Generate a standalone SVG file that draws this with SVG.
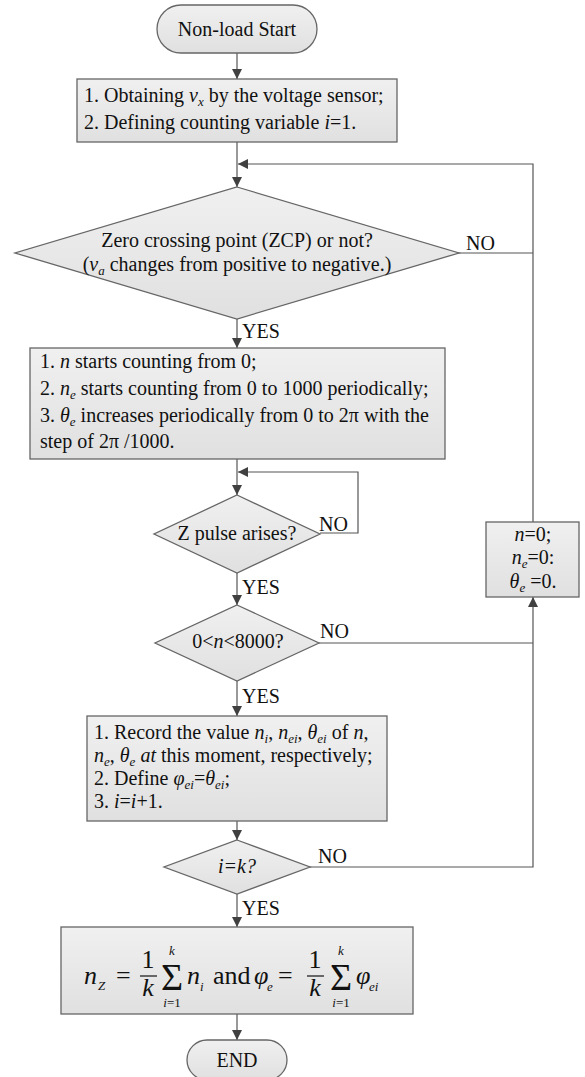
<svg xmlns="http://www.w3.org/2000/svg" width="585" height="1077" viewBox="0 0 585 1077">
<defs>
<linearGradient id="g" x1="0" y1="0" x2="0" y2="1">
<stop offset="0" stop-color="#f0f0f0"/>
<stop offset="1" stop-color="#e0e0e0"/>
</linearGradient>
<marker id="ah" markerUnits="userSpaceOnUse" markerWidth="10" markerHeight="10" refX="10" refY="5" orient="auto">
<path d="M0,0 L10,5 L0,10 z" fill="#404040"/>
</marker>
</defs>
<style>
.shape{fill:url(#g);stroke:#666;stroke-width:1.3}
.t{font-family:"Liberation Serif","Times New Roman",serif;font-size:20px;fill:#111}
.c{text-anchor:middle}
.i{font-style:italic}
.s{font-size:13px}
.f{font-family:"Liberation Serif","Times New Roman",serif;font-size:26px;fill:#111}
.fs{font-size:13px}
.sig{font-size:38px}
.con{fill:none;stroke:#555;stroke-width:1.2}
.arr{marker-end:url(#ah)}
</style>
<rect width="585" height="1077" fill="#fff"/>

<g id="connectors">
<path class="con arr" d="M237,53 V79"/>
<path class="con arr" d="M237,142 V187"/>
<path class="con" d="M458,253 H533"/>
<path class="con arr" d="M533,522 V164 H238"/>
<path class="con arr" d="M237,319 V348"/>
<path class="con arr" d="M237,459 V495"/>
<path class="con arr" d="M320,533 H358 V472 H238"/>
<path class="con arr" d="M237,573 V605"/>
<path class="con" d="M319,643 H533"/>
<path class="con arr" d="M309,867 H533 V597"/>
<path class="con arr" d="M237,681 V716"/>
<path class="con arr" d="M237,821 V840"/>
<path class="con arr" d="M237,894 V927"/>
<path class="con arr" d="M237,1014 V1040"/>
</g>

<g id="start">
<rect class="shape" x="157" y="5" width="160" height="48" rx="24"/>
<text class="t c" x="237" y="36">Non-load Start</text>
</g>

<g id="box1">
<rect class="shape" x="77" y="79" width="320" height="63"/>
<text class="t" x="84" y="102">1. Obtaining <tspan class="i">v</tspan><tspan class="i s" dy="4">x</tspan><tspan dy="-4"> by the voltage sensor;</tspan></text>
<text class="t" x="84" y="129">2. Defining counting variable <tspan class="i">i</tspan>=1.</text>
</g>

<g id="zcp">
<polygon class="shape" points="237,187 459,253 237,319 15,253"/>
<text class="t c" x="237" y="247">Zero crossing point (ZCP) or not?</text>
<text class="t c" x="237" y="271">(<tspan class="i">v</tspan><tspan class="i s" dy="4">a</tspan><tspan dy="-4"> changes from positive to negative.)</tspan></text>
</g>
<text class="t" x="466" y="250">NO</text>
<text class="t" x="242" y="338">YES</text>

<g id="box2">
<rect class="shape" x="30" y="348" width="415" height="111"/>
<text class="t" x="40" y="368">1. <tspan class="i">n</tspan> starts counting from 0;</text>
<text class="t" x="40" y="395">2. <tspan class="i">n</tspan><tspan class="i s" dy="4">e</tspan><tspan dy="-4"> starts counting from 0 to 1000 periodically;</tspan></text>
<text class="t" x="40" y="422">3. <tspan class="i">θ</tspan><tspan class="i s" dy="4">e</tspan><tspan dy="-4"> increases periodically from 0 to 2π with the</tspan></text>
<text class="t" x="40" y="448">step of  2π /1000.</text>
</g>

<g id="zpulse">
<polygon class="shape" points="237,495 320,534 237,573 154,534"/>
<text class="t c" x="237" y="540">Z pulse arises?</text>
</g>
<text class="t" x="319" y="531">NO</text>
<text class="t" x="242" y="594">YES</text>

<g id="range">
<polygon class="shape" points="237,605 319,643 237,681 155,643"/>
<text class="t c" x="238" y="648">0&lt;<tspan class="i">n</tspan>&lt;8000?</text>
</g>
<text class="t" x="320" y="638">NO</text>
<text class="t" x="242" y="703">YES</text>

<g id="reset">
<rect class="shape" x="486" y="522" width="93" height="75"/>
<text class="t c" x="533" y="541"><tspan class="i">n</tspan>=0;</text>
<text class="t c" x="533" y="564"><tspan class="i">n</tspan><tspan class="i s" dy="4">e</tspan><tspan dy="-4">=0:</tspan></text>
<text class="t c" x="533" y="588"><tspan class="i">θ</tspan><tspan class="i s" dy="4">e</tspan><tspan dy="-4"> =0.</tspan></text>
</g>

<g id="box4">
<rect class="shape" x="87" y="716" width="300" height="105"/>
<text class="t" x="94" y="739">1. Record the value <tspan class="i">n</tspan><tspan class="i s" dy="4">i</tspan><tspan dy="-4">, </tspan><tspan class="i">n</tspan><tspan class="i s" dy="4">ei</tspan><tspan dy="-4">, </tspan><tspan class="i">θ</tspan><tspan class="i s" dy="4">ei</tspan><tspan dy="-4"> of </tspan><tspan class="i">n</tspan>,</text>
<text class="t" x="94" y="762"><tspan class="i">n</tspan><tspan class="i s" dy="4">e</tspan><tspan dy="-4">, </tspan><tspan class="i">θ</tspan><tspan class="i s" dy="4">e</tspan><tspan dy="-4"> </tspan><tspan class="i">at</tspan> this moment, respectively;</text>
<text class="t" x="94" y="785">2. Define <tspan class="i">φ</tspan><tspan class="i s" dy="4">ei</tspan><tspan dy="-4">=</tspan><tspan class="i">θ</tspan><tspan class="i s" dy="4">ei</tspan><tspan dy="-4">;</tspan></text>
<text class="t" x="94" y="808">3. <tspan class="i">i</tspan>=<tspan class="i">i</tspan>+1.</text>
</g>

<g id="ik">
<polygon class="shape" points="237,840 310,867 237,894 164,867"/>
<text class="t c i" x="237" y="873">i=k?</text>
</g>
<text class="t" x="318" y="863">NO</text>
<text class="t" x="242" y="915">YES</text>

<g id="result">
<rect class="shape" x="61" y="927" width="352" height="87"/>
<text class="f i" x="84" y="984">n</text>
<text class="f i fs" x="98" y="990">Z</text>
<text class="f" x="116" y="984">=</text>
<text class="f" x="148" y="968" text-anchor="middle">1</text>
<line x1="140" y1="976" x2="157" y2="976" stroke="#111" stroke-width="1.2"/>
<text class="f i" x="148" y="996" text-anchor="middle">k</text>
<text class="f sig" x="172" y="990" text-anchor="middle">Σ</text>
<text class="f i fs" x="172" y="955" text-anchor="middle">k</text>
<text class="f fs" x="172" y="1007" text-anchor="middle"><tspan class="i">i</tspan>=1</text>
<text class="f i" x="187" y="984">n</text>
<text class="f i fs" x="200" y="991">i</text>
<text class="f" x="213" y="984">and</text>
<text class="f i" x="254" y="984">φ</text>
<text class="f i fs" x="267" y="991">e</text>
<text class="f" x="278" y="984">=</text>
<text class="f" x="315" y="968" text-anchor="middle">1</text>
<line x1="307" y1="976" x2="324" y2="976" stroke="#111" stroke-width="1.2"/>
<text class="f i" x="315" y="996" text-anchor="middle">k</text>
<text class="f sig" x="341" y="990" text-anchor="middle">Σ</text>
<text class="f i fs" x="341" y="955" text-anchor="middle">k</text>
<text class="f fs" x="341" y="1007" text-anchor="middle"><tspan class="i">i</tspan>=1</text>
<text class="f i" x="356" y="984">φ</text>
<text class="f i fs" x="369" y="991">ei</text>
</g>

<g id="end">
<rect class="shape" x="187" y="1040" width="100" height="40" rx="20"/>
<text class="t c" x="237" y="1067">END</text>
</g>
</svg>
